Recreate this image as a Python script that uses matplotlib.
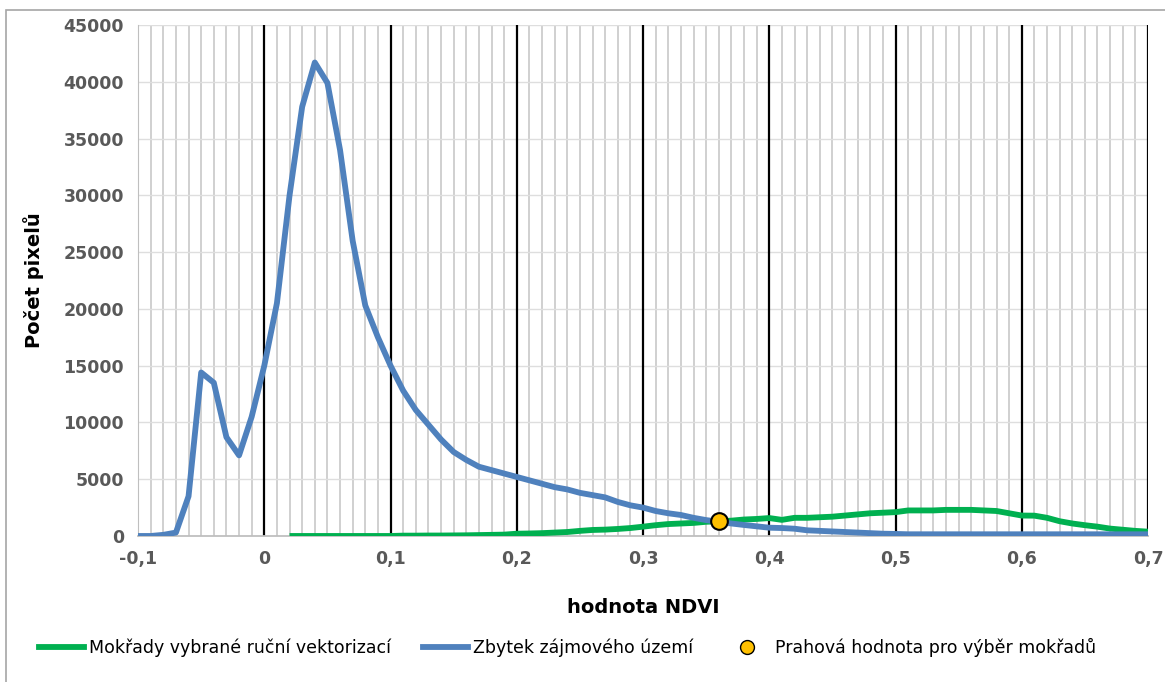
import numpy as np
import matplotlib.pyplot as plt
from matplotlib.patches import Rectangle
from matplotlib.lines import Line2D

# hodnoty
x_blue = np.round(np.arange(-0.10, 0.705, 0.01), 2)
y_blue = [0, 0, 100, 300, 3500, 14400, 13500, 8700, 7100, 10500,
          15000, 20500, 30000, 37800, 41700, 39900, 34000, 26000, 20300, 17500,
          15000, 12800, 11100, 9800, 8500, 7400, 6700, 6100, 5800, 5500,
          5200, 4900, 4600, 4300, 4100, 3800, 3600, 3400, 3000, 2700,
          2500, 2200, 2000, 1850, 1600, 1400, 1250, 1100, 970, 850,
          730, 700, 640, 500, 450, 400, 350, 300, 250, 200,
          180, 150, 150, 150, 150, 150, 150, 150, 150, 150,
          150, 150, 150, 150, 150, 150, 150, 150, 150, 150, 150]

x_green = np.round(np.arange(0.02, 0.705, 0.01), 2)
y_green = [0, 0, 0, 0, 0, 0, 0, 0, 0, 30,
           30, 40, 40, 50, 60, 80, 100, 120, 200, 220,
           250, 300, 350, 450, 530, 560, 620, 700, 820, 950,
           1050, 1100, 1150, 1250, 1300, 1350, 1450, 1500, 1580, 1420,
           1600, 1600, 1650, 1700, 1800, 1900, 2000, 2050, 2100, 2250,
           2250, 2250, 2300, 2300, 2300, 2250, 2200, 2000, 1800, 1790,
           1600, 1300, 1100, 950, 820, 650, 550, 450, 380]

threshold_x = [0.36]
threshold_y = [1320]

labels = ['Mokřady vybrané ruční vektorizací', 'Zbytek zájmového území',
          'Prahová hodnota pro výběr mokřadů']

fig = plt.figure(figsize=(11.65, 6.82), dpi=100)
ax = fig.add_axes([0.1185, 0.2141, 0.8669, 0.7492])

# okraj kolem celého grafu
fig.patches.append(Rectangle((0.005, -0.01), 1.2, 0.995, transform=fig.transFigure,
                             fill=False, edgecolor='#A6A6A6', linewidth=1.2))

# mřížka
for v in np.round(np.arange(-0.09, 0.70, 0.01), 2):
    if abs(v * 10 - round(v * 10)) > 1e-6:
        ax.axvline(v, color='#C8C8C8', linewidth=1.2, zorder=0)
for v in np.round(np.arange(0.0, 0.75, 0.1), 1):
    ax.axvline(v, color='black', linewidth=1.6, zorder=0.5)
for h in range(5000, 45001, 5000):
    ax.axhline(h, color='#DEDEDE', linewidth=1.0, zorder=0)

ax.plot(x_green, y_green, color='#00B050', linewidth=4.2, solid_capstyle='butt',
        solid_joinstyle='round', zorder=3)
ax.plot(x_blue, y_blue, color='#4F81BD', linewidth=4.2, solid_capstyle='butt',
        solid_joinstyle='round', zorder=3)
ax.plot(threshold_x, threshold_y, 'o', markersize=12, markerfacecolor='#FFC000',
        markeredgecolor='black', markeredgewidth=1.5, zorder=5)

ax.set_xlim(-0.1, 0.7)
ax.set_ylim(0, 45000)
ax.set_xticks(np.round(np.arange(-0.1, 0.75, 0.1), 1))
ax.set_xticklabels([('%g' % t).replace('.', ',') for t in np.round(np.arange(-0.1, 0.75, 0.1), 1)])
ax.set_yticks(range(0, 45001, 5000))
ax.tick_params(length=0, labelsize=12.5, labelcolor='#595959', pad=10)
for lab in ax.get_xticklabels() + ax.get_yticklabels():
    lab.set_fontweight('bold')

for s in ['top', 'right']:
    ax.spines[s].set_visible(False)
ax.spines['left'].set_color('#BFBFBF')
ax.spines['bottom'].set_color('#BFBFBF')
ax.spines['bottom'].set_linewidth(1.3)

ax.set_xlabel('hodnota NDVI', fontsize=14, fontweight='bold', labelpad=22)
ax.set_ylabel('Počet pixelů', fontsize=14, fontweight='bold', labelpad=14)

handles = [Line2D([], [], color='#00B050', linewidth=4.2),
           Line2D([], [], color='#4F81BD', linewidth=4.2),
           Line2D([], [], linestyle='none', marker='o', markersize=10,
                  markerfacecolor='#FFC000', markeredgecolor='black')]
fig.legend(handles, labels, loc='center left', bbox_to_anchor=(0.02, 0.05), ncol=3,
           frameon=False, fontsize=12.5, handlelength=2.6, handletextpad=0.3,
           columnspacing=1.8)

fig.savefig('out.png', dpi=100)
